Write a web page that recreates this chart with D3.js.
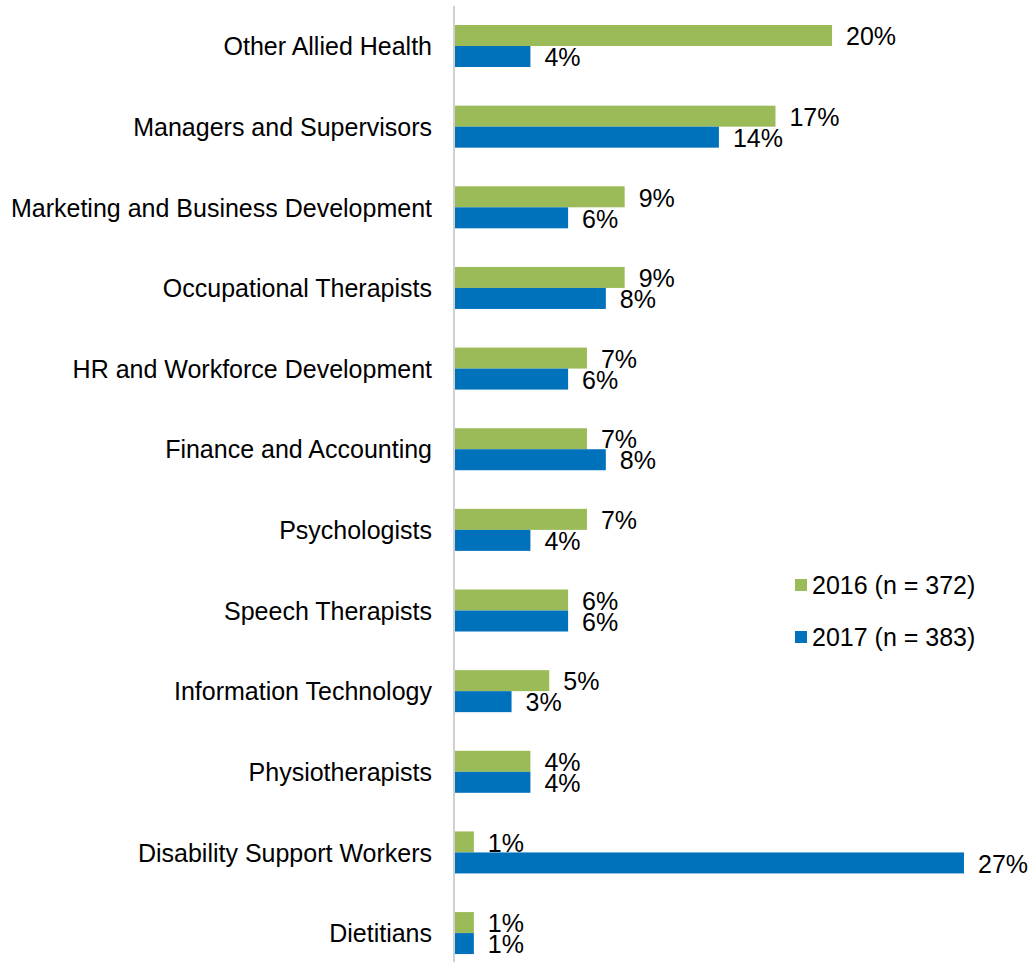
<!DOCTYPE html>
<html>
<head>
<meta charset="utf-8">
<script src="https://cdn.jsdelivr.net/npm/d3@7/dist/d3.min.js"></script>
<style>
  html, body { margin: 0; padding: 0; background: #fff; }
  svg { display: block; font-family: Arial, "Liberation Sans", sans-serif; }
</style>
</head>
<body>
<svg id="chart" width="1033" height="962"></svg>
<script>
// Staff roles, top to bottom
const categories = [
  "Other Allied Health",
  "Managers and Supervisors",
  "Marketing and Business Development",
  "Occupational Therapists",
  "HR and Workforce Development",
  "Finance and Accounting",
  "Psychologists",
  "Speech Therapists",
  "Information Technology",
  "Physiotherapists",
  "Disability Support Workers",
  "Dietitians"
];
// Share of respondents (%) per year
const values2016 = [20, 17, 9, 9, 7, 7, 7, 6, 5, 4, 1, 1];
const values2017 = [4, 14, 6, 8, 6, 8, 4, 6, 3, 4, 27, 1];
const seriesNames = ["2016 (n = 372)", "2017 (n = 383)"];
const seriesColors = ["#9bbb59", "#0071bb"];

const series = [
  { name: seriesNames[0], color: seriesColors[0], values: values2016 },
  { name: seriesNames[1], color: seriesColors[1], values: values2017 }
];

const fontSize = 25;
const svg = d3.select("#chart");
const x0 = 455;
const x = d3.scaleLinear().domain([0, 27]).range([x0, 964]);
const y = d3.scaleBand().domain(categories).range([5.7, 973.4]).paddingInner(0).paddingOuter(0);
const barH = 21;

// Category labels
svg.append("g").selectAll("text")
  .data(categories)
  .join("text")
  .attr("x", 432)
  .attr("y", d => y(d) + y.bandwidth() / 2 + 0.5)
  .attr("dy", "0.35em")
  .attr("text-anchor", "end")
  .attr("font-size", fontSize)
  .attr("fill", "#000")
  .text(d => d);

// Bars and value labels
series.forEach((s, si) => {
  const g = svg.append("g");
  const top = c => y(c) + y.bandwidth() / 2 - barH + si * barH;
  g.selectAll("rect")
    .data(categories)
    .join("rect")
    .attr("x", x0)
    .attr("y", (c) => top(c))
    .attr("width", (c, i) => x(s.values[i]) - x0)
    .attr("height", barH)
    .attr("fill", s.color);
  g.selectAll("text")
    .data(categories)
    .join("text")
    .attr("x", (c, i) => x(s.values[i]) + 14)
    .attr("y", c => top(c) + barH / 2 + 1)
    .attr("dy", "0.35em")
    .attr("font-size", fontSize)
    .attr("fill", "#000")
    .text((c, i) => s.values[i] + "%");
});

// Vertical category axis line
svg.append("line")
  .attr("x1", 454).attr("x2", 454)
  .attr("y1", 6).attr("y2", 962)
  .attr("stroke", "#d0d0d0")
  .attr("stroke-width", 2);

// Legend
const legend = svg.append("g");
series.forEach((s, i) => {
  const ly = 585 + i * 52;
  legend.append("rect")
    .attr("x", 795).attr("y", ly - 6)
    .attr("width", 12).attr("height", 12)
    .attr("fill", s.color);
  legend.append("text")
    .attr("x", 812).attr("y", ly)
    .attr("dy", "0.35em")
    .attr("font-size", fontSize)
    .attr("fill", "#000")
    .text(s.name);
});
</script>
</body>
</html>
